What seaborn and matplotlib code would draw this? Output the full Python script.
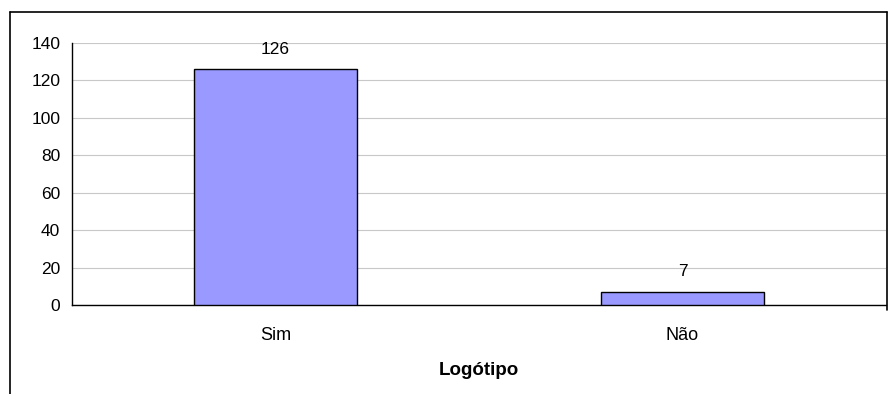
import matplotlib
matplotlib.use("Agg")
import matplotlib.pyplot as plt
from matplotlib.lines import Line2D
import seaborn as sns
import pandas as pd

categories = ["Sim", "Não"]
values = [126, 7]
y_ticks = [0, 20, 40, 60, 80, 100, 120, 140]
x_title = "Logótipo"

sns.set_style("white")
plt.rcParams["font.family"] = ["Liberation Sans", "DejaVu Sans"]
plt.rcParams["text.color"] = "black"
plt.rcParams["xtick.color"] = "black"
plt.rcParams["ytick.color"] = "black"
plt.rcParams["axes.labelcolor"] = "black"

FS = 12.5

df = pd.DataFrame({"cat": categories, "val": values})

fig = plt.figure(figsize=(8.91, 3.94), dpi=100)
ax = fig.add_axes([72 / 891, 1 - 305 / 394, 814 / 891, 262 / 394])

sns.barplot(data=df, x="cat", y="val", color="#9999FF", saturation=1,
            width=0.4, edgecolor="black", linewidth=1.0, ax=ax, zorder=3)

ax.set_ylim(0, 140)
ax.set_xlim(-0.5, len(categories) - 0.5)
ax.set_yticks(y_ticks)
ax.set_yticklabels([str(t) for t in y_ticks], fontsize=FS)
ax.yaxis.grid(True, color="#c8c8c8", linewidth=0.8, zorder=0)
ax.set_axisbelow(True)

# category boundaries carry the tick marks, names sit in between
ax.set_xticks([i - 0.5 for i in range(len(categories) + 1)])
ax.set_xticklabels([])
ax.set_xticks(range(len(categories)), minor=True)
ax.set_xticklabels(categories, minor=True, fontsize=13)
ax.tick_params(axis="x", which="major", length=5, width=0.9, direction="out")
ax.tick_params(axis="x", which="minor", length=0, pad=16)
ax.tick_params(axis="y", length=5, width=0.9, direction="out", pad=3.5)

ax.set_xlabel(x_title, fontsize=13.5, fontweight="bold", labelpad=13)
ax.set_ylabel("")

for s in ["top", "right"]:
    ax.spines[s].set_visible(False)
for s in ["left", "bottom"]:
    ax.spines[s].set_color("black")
    ax.spines[s].set_linewidth(1.0)

for i, v in enumerate(values):
    ax.annotate(str(v), (i, v), xytext=(0, 9), textcoords="offset points",
                ha="center", va="bottom", fontsize=FS)

# outer chart frame
W, H = 891, 394
frame = dict(color="black", linewidth=1.2, transform=fig.transFigure)
fig.add_artist(Line2D([10 / W, 10 / W], [0, 1 - 12 / H], **frame))
fig.add_artist(Line2D([10 / W, 886.5 / W], [1 - 12 / H, 1 - 12 / H], **frame))
fig.add_artist(Line2D([886.5 / W, 886.5 / W], [1 - 12 / H, 1 - 310 / H], **frame))

fig.savefig("out.png", dpi=100)
